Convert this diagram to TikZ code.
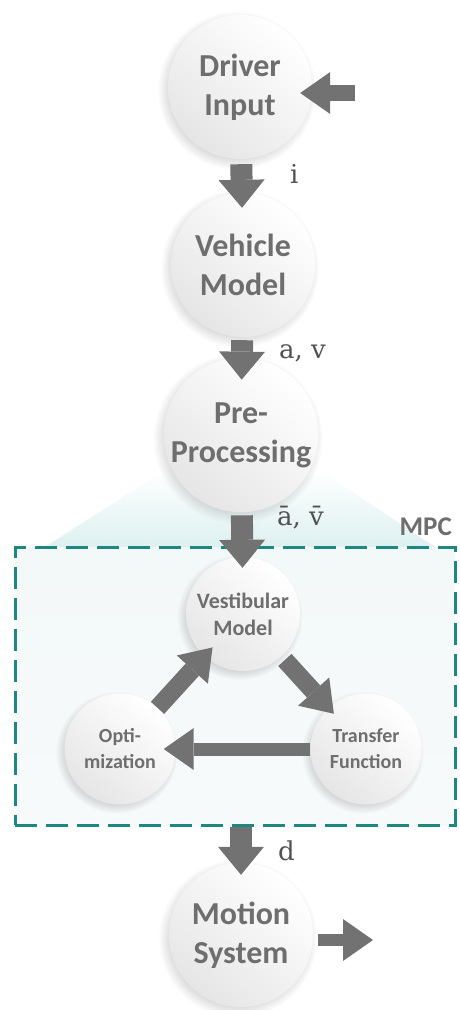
\documentclass[tikz,border=0pt]{standalone}
\usepackage{fontspec}
\newfontfamily\carl{Carlito}
\newfontfamily\dser{DejaVu Serif}
\usetikzlibrary{arrows.meta,shadows,calc}
\definecolor{txt}{HTML}{6E6E6E}
\definecolor{arr}{HTML}{727272}
\definecolor{mpcc}{HTML}{1E8780}
\tikzset{
  bub/.style={circle, inner sep=0pt, align=center, text=txt,
    top color=white, bottom color=black!10, shading angle=-40,
    circular drop shadow={shadow xshift=-3pt, shadow yshift=-3pt, opacity=0.3, fill=black!45}},
  big/.style={bub, minimum size=144pt, font=\carl\bfseries\fontsize{32}{39}\selectfont},
  mid/.style={bub, minimum size=114pt, font=\carl\bfseries\fontsize{22}{27}\selectfont},
  sml/.style={bub, minimum size=111pt, font=\carl\bfseries\fontsize{20}{26}\selectfont},
  barrow/.style={draw=arr, line width=22pt, -{Triangle[length=28pt,width=46pt,line width=0pt]}},
  narrow/.style={draw=arr, line width=16pt, -{Triangle[length=30pt,width=42pt,line width=0pt]}},
  lbl/.style={inner sep=0pt, anchor=base west, text=black!68, font=\dser\fontsize{26}{30}\selectfont},
  boxst/.style={draw=mpcc, line width=3pt, dash pattern=on 22pt off 9pt, inner sep=0pt,
    top color={rgb,255:red,243;green,248;blue,249}, middle color={rgb,255:red,228;green,240;blue,243},
    bottom color={rgb,255:red,247;green,250;blue,251}}
}
\begin{document}
\begin{tikzpicture}[x=1pt,y=-1pt]
\useasboundingbox (0,0) rectangle (459,1010);
% glow above box
\shade[top color=white, bottom color={rgb,255:red,222;green,240;blue,240}]
  (45,547) -- (165,470) -- (320,470) -- (435,547) -- cycle;
% MPC box
\node[boxst, minimum width=440pt, minimum height=278pt] (mpcbox) at (235,686) {};
\node[inner sep=0pt, anchor=base east, text=txt, font=\carl\bfseries\fontsize{27}{30}\selectfont] (mpclbl) at (452,535) {MPC};
% nodes
\node[big] (driver) at (240,87) {Driver\\Input};
\node[big] (vehicle) at (243,265) {Vehicle\\Model};
\node[big] (pre) at (241,435) {Pre-\\Processing};
\node[mid] (vest) at (243,614) {Vestibular\\Model};
\node[sml] (opt) at (120,749) {Opti-\\mization};
\node[sml] (tf) at (366,749) {Transfer\\Function};
\node[big] (motion) at (241,935) {Motion\\System};
\coordinate (in) at (355,93);
\coordinate (out) at (373,940);
% connectors
\draw[narrow, shorten >=-12pt] (in) -- (in -| driver.east);
\draw[barrow, shorten <=5pt, shorten >=-15pt] (driver) -- (vehicle);
\draw[barrow, shorten <=3pt, shorten >=-22pt] (vehicle) -- (pre);
\draw[barrow, shorten <=3pt, shorten >=-11pt] (pre) -- (vest);
\draw[narrow, line width=18pt, shorten <=5pt, shorten >=-8pt] (vest) -- (tf);
\draw[narrow, line width=13pt, shorten >=-12pt] (tf) -- (opt);
\draw[narrow, line width=18pt, shorten >=-12pt] (opt) -- (vest);
\draw[barrow, shorten >=-12pt] (mpcbox.south -| motion) -- (motion);
\draw[narrow, line width=12pt, shorten <=5pt] (out -| motion.east) -- (out);
% labels
\node[lbl] (li) at (290,183) {i};
\node[lbl] (lav) at (279,358) {a, v};
\node[lbl] (labar) at (277,525) {ā, v̄};
\node[lbl] (ld) at (278,860) {d};
\end{tikzpicture}
\end{document}
